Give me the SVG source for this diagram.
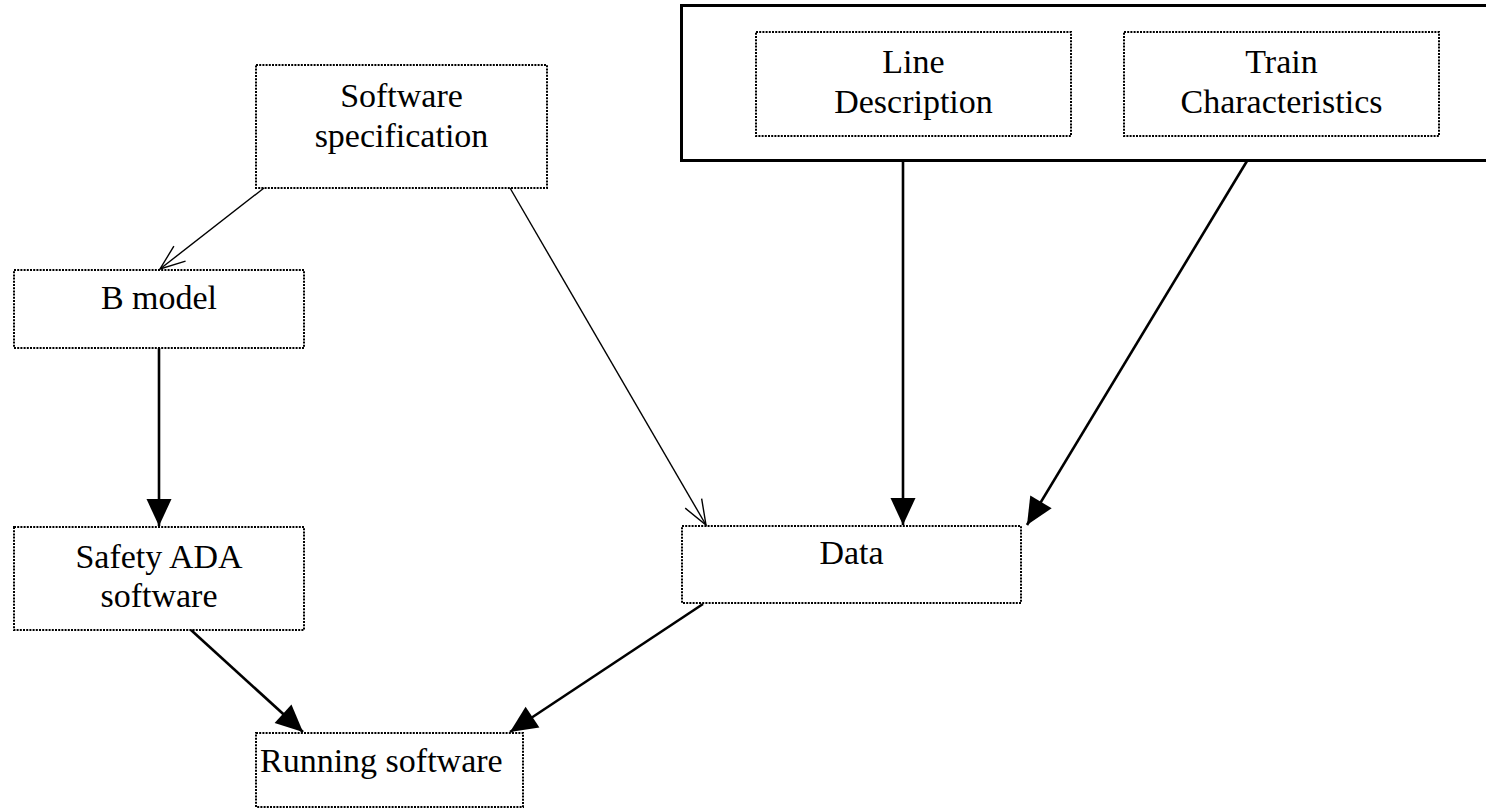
<svg xmlns="http://www.w3.org/2000/svg" width="1486" height="809" viewBox="0 0 1486 809">
  <style>
    .node { fill: #ffffff; stroke: #000000; stroke-width: 2; stroke-dasharray: 2 1.2; }
    .frame { fill: #ffffff; stroke: #000000; stroke-width: 3; }
    .label { font-family: "Liberation Serif", "Times New Roman", serif; font-size: 34px; fill: #000000; text-anchor: middle; }
    .thin { stroke: #000000; stroke-width: 1.4; fill: none; marker-end: url(#open); }
    .thick { stroke: #000000; stroke-width: 2.6; fill: none; marker-end: url(#solid); }
  </style>
  <defs>
    <marker id="open" markerUnits="userSpaceOnUse" markerWidth="30" markerHeight="24" refX="25" refY="9.5" orient="auto" overflow="visible">
      <path d="M0,0 L25,9.5 L0,19" fill="none" stroke="#000000" stroke-width="1.4"/>
    </marker>
    <marker id="solid" markerUnits="userSpaceOnUse" markerWidth="30" markerHeight="28" refX="27" refY="12.5" orient="auto" overflow="visible">
      <path d="M0,0 L27,12.5 L0,25 z" fill="#000000"/>
    </marker>
  </defs>

  <rect x="0" y="0" width="1486" height="809" fill="#ffffff"/>

  <!-- container for the input data sources -->
  <g id="inputs">
    <rect class="frame" x="681.5" y="5.5" width="820" height="155"/>
  </g>

  <g id="line-description">
    <rect class="node" x="756" y="32" width="315" height="104"/>
    <text class="label" x="913.5" y="73">Line</text>
    <text class="label" x="913.5" y="113">Description</text>
  </g>

  <g id="train-characteristics">
    <rect class="node" x="1124" y="32" width="315" height="104"/>
    <text class="label" x="1281.5" y="73">Train</text>
    <text class="label" x="1281.5" y="113">Characteristics</text>
  </g>

  <g id="software-specification">
    <rect class="node" x="256" y="65" width="291" height="123"/>
    <text class="label" x="401.5" y="107">Software</text>
    <text class="label" x="401.5" y="147">specification</text>
  </g>

  <g id="b-model">
    <rect class="node" x="14" y="270" width="290" height="78"/>
    <text class="label" x="159" y="309">B model</text>
  </g>

  <g id="safety-ada-software">
    <rect class="node" x="14" y="527" width="290" height="103"/>
    <text class="label" x="159" y="568">Safety ADA</text>
    <text class="label" x="159" y="607">software</text>
  </g>

  <g id="data">
    <rect class="node" x="682" y="526" width="339" height="77"/>
    <text class="label" x="851.5" y="564">Data</text>
  </g>

  <g id="running-software">
    <rect class="node" x="256" y="733" width="267" height="74"/>
    <text class="label" x="260" y="772" style="text-anchor:start">Running software</text>
  </g>

  <g id="connectors">
    <line class="thin" x1="264" y1="188" x2="160" y2="269"/>
    <line class="thin" x1="510" y1="188" x2="706" y2="525"/>
    <line class="thick" x1="903" y1="161" x2="903" y2="525"/>
    <line class="thick" x1="1247" y1="161" x2="1027" y2="525"/>
    <line class="thick" x1="159" y1="348" x2="159" y2="526"/>
    <line class="thick" x1="191" y1="630" x2="303" y2="732"/>
    <line class="thick" x1="703" y1="604" x2="510" y2="732"/>
  </g>
</svg>
